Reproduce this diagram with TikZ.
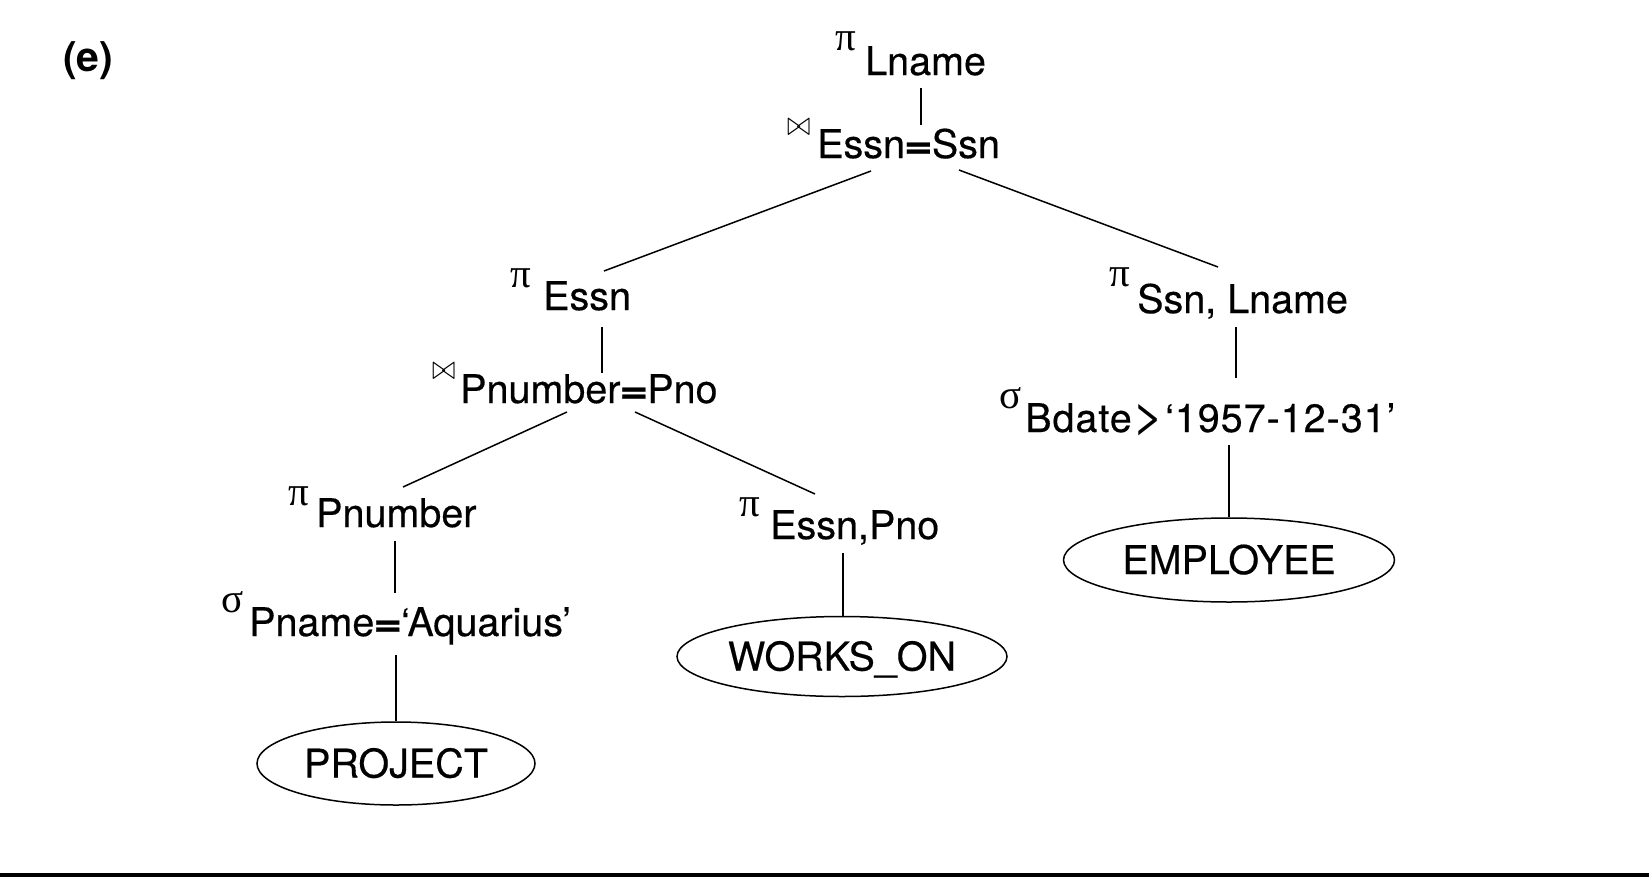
\documentclass[tikz,border=0pt]{standalone}
\usepackage{fontspec}
\usepackage{graphicx}
\setmainfont{TeX Gyre Heros}[FakeBold=0.4]
\newfontfamily\boldsans{TeX Gyre Heros Bold}
\newfontfamily\thinsans{TeX Gyre Heros}
\newfontfamily\symfont{Liberation Serif}
\usetikzlibrary{shapes.geometric,calc}
\newcommand{\bowtiesym}{\scalebox{1.15}[1.4]{$\bowtie$}}
\newcommand{\eqs}{\kern-1pt\scalebox{1.25}[1]{\textbf{=}}\kern-1pt}
\newcommand{\gts}{\kern0.5pt\scalebox{1.4}[1.25]{\thinsans >}\kern0.5pt}
\begin{document}
\begin{tikzpicture}[x=1pt,y=-1pt,
  lbl/.style={anchor=base west,inner sep=0pt,font=\fontsize{39.5}{40}\selectfont,text height=28pt,text depth=0pt},
  opsym/.style={anchor=base west,inner sep=0pt,font=\symfont\fontsize{41}{41}\selectfont},
  joinsym/.style={anchor=base west,inner sep=0pt,font=\fontsize{24.88}{30}\selectfont},
  rel/.style={ellipse,draw,line width=1.5pt,inner sep=0pt,font=\fontsize{39.5}{40}\selectfont,text height=28pt,text depth=0pt},
  conn/.style={line width=1.5pt}]
\useasboundingbox (0,0) rectangle (1649,889);

\node[anchor=base west,inner sep=0pt,font=\boldsans\fontsize{41}{42}\selectfont] (lab) at (63,71) {(e)};

% labels
\node[lbl] (l1) at (865,75) {Lname};
\node[opsym] (l1s) at ($(l1.base west)+(-30,-25)$) {π};

\node[lbl] (j1) at (817,158) {Essn\eqs Ssn};
\node[joinsym] (j1s) at ($(j1.base west)+(-30,-23)$) {\bowtiesym};

\node[lbl] (p2) at (543,310) {Essn};
\node[opsym] (p2s) at ($(p2.base west)+(-33,-23)$) {π};

\node[lbl] (j2) at (460,403) {Pnumber\eqs Pno};
\node[joinsym] (j2s) at ($(j2.base west)+(-28,-24)$) {\bowtiesym};

\node[lbl] (p3) at (1137,313) {Ssn, Lname};
\node[opsym] (p3s) at ($(p3.base west)+(-28,-27)$) {π};

\node[lbl] (s2) at (1025,432) {\addfontfeature{LetterSpace=2.5}Bdate\gts‘1957-12-31’};
\node[opsym] (s2s) at ($(s2.base west)+(-26,-24)$) {σ};

\node[lbl] (p4) at (316,527) {Pnumber};
\node[opsym] (p4s) at ($(p4.base west)+(-28,-22)$) {π};

\node[lbl] (s1) at (249,636) {Pname\eqs‘Aquarius’};
\node[opsym] (s1s) at ($(s1.base west)+(-28,-24)$) {σ};

\node[lbl] (p5) at (770,539) {Essn,Pno};
\node[opsym] (p5s) at ($(p5.base west)+(-31,-23)$) {π};

% relations
\node[rel,minimum width=278pt,minimum height=83pt] (e1) at (396,763.5) {PROJECT};
\node[rel,minimum width=330pt,minimum height=80pt] (e2) at (842,656.5) {WORKS\_ON};
\node[rel,minimum width=331pt,minimum height=84pt] (e3) at (1229,560) {EMPLOYEE};

% connectors
\draw[conn] ($(l1.base west)+(56,13)$) -- ($(j1.base west)+(104,-33)$);
\draw[conn] ($(j1.base west)+(54,13)$) -- ($(p2.base west)+(61,-39)$);
\draw[conn] ($(j1.base west)+(142,12)$) -- ($(p3.base west)+(81,-46)$);
\draw[conn] ($(p2.base west)+(59,17)$) -- ($(j2.base west)+(142,-30)$);
\draw[conn] ($(j2.base west)+(107,9)$) -- ($(p4.base west)+(87,-40)$);
\draw[conn] ($(j2.base west)+(175,9)$) -- ($(p5.base west)+(45,-45)$);
\draw[conn] ($(p4.base west)+(79,14)$) -- ($(s1.base west)+(146,-43)$);
\draw[conn] ($(s1.base west)+(147,19)$) coordinate (t1) -- (t1 |- e1.north);
\draw[conn] ($(p5.base west)+(73,14)$) coordinate (t2) -- (t2 |- e2.north);
\draw[conn] ($(p3.base west)+(99,14)$) -- ($(s2.base west)+(211,-54)$);
\draw[conn] ($(s2.base west)+(204,13)$) coordinate (t3) -- (t3 |- e3.north);

% bottom rule
\draw[line width=4pt] (0,875) -- (1649,875);
\end{tikzpicture}
\end{document}
